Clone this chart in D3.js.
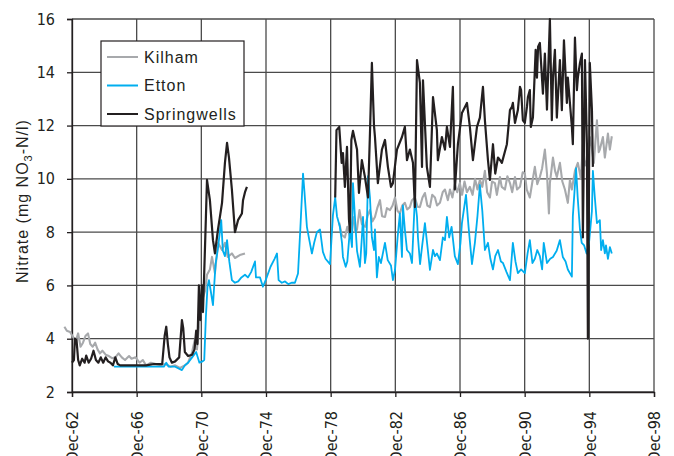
<!DOCTYPE html>
<html>
<head>
<meta charset="utf-8">
<script src="https://cdn.jsdelivr.net/npm/d3@7"></script>
<style>
  html, body { margin: 0; padding: 0; background: #fff; }
  svg { display: block; }
  .tick-label { font-family: "Liberation Sans Narrow", "DejaVu Sans Condensed", "Roboto Condensed", "Liberation Sans", sans-serif; font-size: 16px; fill: #231f20; }
  .legend-text, .axis-title { font-family: "Liberation Sans", Arial, sans-serif; font-size: 16px; fill: #231f20; letter-spacing: 1px; }
</style>
</head>
<body>
<svg id="chart" width="674" height="456"></svg>
<script>
// Axis ticks (time in decimal years, December of each tick year)
const xTickYears = [1962.92, 1966.92, 1970.92, 1974.92, 1978.92, 1982.92, 1986.92, 1990.92, 1994.92, 1998.92];
const xTickLabels = ["Dec-62", "Dec-66", "Dec-70", "Dec-74", "Dec-78", "Dec-82", "Dec-86", "Dec-90", "Dec-94", "Dec-98"];
const yTicks = [2, 4, 6, 8, 10, 12, 14, 16];

const seriesNames = ["Kilham", "Etton", "Springwells"];

// Kilham borehole nitrate, [decimal year, mg NO3-N/l]
const kilham = [
  [1962.45, 4.45], [1962.6, 4.3], [1962.8, 4.25], [1963.0, 4.05], [1963.15, 3.9], [1963.3, 4.2], [1963.45, 3.7],
  [1963.6, 3.85], [1963.75, 4.1], [1963.91, 4.2], [1964.05, 3.8], [1964.2, 3.7], [1964.35, 3.85], [1964.5, 3.6],
  [1964.65, 3.45], [1964.8, 3.55], [1965.0, 3.4], [1965.2, 3.35], [1965.4, 3.27], [1965.6, 3.3], [1965.8, 3.45],
  [1966.0, 3.3], [1966.2, 3.2], [1966.45, 3.35], [1966.6, 3.25], [1966.85, 3.3], [1967.1, 3.1], [1967.3, 3.2],
  [1967.5, 3.0], [1967.8, 3.1], [1968.1, 3.05], [1968.4, 3.0], [1968.7, 3.05], [1969.0, 2.95], [1969.3, 3.0],
  [1969.6, 2.9], [1969.9, 3.0], [1970.1, 3.1], [1970.35, 3.5], [1970.53, 4.0], [1970.65, 3.6], [1970.8, 4.6],
  [1970.95, 5.4], [1971.15, 5.8], [1971.27, 6.4], [1971.45, 6.6], [1971.58, 7.07], [1971.76, 6.46], [1971.95, 7.6],
  [1972.2, 7.33], [1972.38, 7.6], [1972.55, 7.07], [1972.81, 7.2], [1973.0, 7.03], [1973.3, 7.14], [1973.62, 7.2],
  [1979.45, 8.35], [1979.6, 7.9], [1979.8, 7.8], [1979.95, 8.2], [1980.1, 7.85], [1980.3, 8.57], [1980.45, 8.0],
  [1980.55, 8.1], [1980.7, 8.83], [1980.85, 8.3], [1981.05, 8.2], [1981.2, 8.6], [1981.35, 8.83], [1981.5, 8.4],
  [1981.66, 8.57], [1981.8, 8.9], [1981.97, 9.2], [1982.1, 8.6], [1982.28, 8.57], [1982.4, 8.9], [1982.59, 8.83],
  [1982.75, 9.0], [1982.9, 9.3], [1983.05, 8.8], [1983.2, 8.7], [1983.35, 9.0], [1983.51, 9.1], [1983.65, 8.85],
  [1983.82, 8.94], [1983.95, 9.2], [1984.13, 9.3], [1984.3, 8.95], [1984.44, 8.94], [1984.6, 9.3], [1984.75, 9.47],
  [1984.9, 9.0], [1985.06, 8.94], [1985.2, 9.4], [1985.37, 9.3], [1985.5, 9.0], [1985.68, 9.1], [1985.85, 9.5],
  [1985.99, 9.6], [1986.17, 9.2], [1986.3, 9.6], [1986.45, 9.3], [1986.6, 9.8], [1986.75, 9.5], [1986.91, 9.84],
  [1987.05, 9.4], [1987.2, 9.9], [1987.35, 9.5], [1987.53, 9.7], [1987.7, 9.4], [1987.85, 10.0], [1988.0, 9.6],
  [1988.15, 9.96], [1988.3, 9.7], [1988.46, 10.3], [1988.6, 9.5], [1988.77, 9.3], [1988.9, 9.9], [1989.08, 9.84],
  [1989.2, 9.4], [1989.39, 10.07], [1989.5, 9.7], [1989.7, 9.6], [1989.85, 10.1], [1990.01, 9.84], [1990.15, 9.5],
  [1990.32, 10.07], [1990.45, 9.6], [1990.63, 9.7], [1990.8, 10.25], [1990.93, 10.2], [1991.05, 9.6], [1991.24, 9.3],
  [1991.4, 9.9], [1991.55, 10.45], [1991.7, 9.8], [1991.86, 10.07], [1992.0, 10.4], [1992.17, 11.1], [1992.3, 10.2],
  [1992.42, 8.7], [1992.48, 9.84], [1992.67, 10.8], [1992.8, 10.3], [1992.91, 10.07], [1993.1, 10.6], [1993.25, 9.9],
  [1993.41, 9.6], [1993.59, 9.1], [1993.72, 9.96], [1993.84, 9.6], [1994.03, 10.3], [1994.21, 10.6], [1994.4, 10.0],
  [1994.52, 11.3], [1994.65, 10.5], [1994.83, 10.8], [1994.95, 11.57], [1995.08, 11.1], [1995.2, 10.6], [1995.39, 12.2],
  [1995.5, 11.0], [1995.57, 11.1], [1995.76, 11.57], [1995.88, 10.8], [1996.07, 11.7], [1996.19, 11.1], [1996.31, 11.6]
];

// Etton borehole nitrate
const etton = [
  [1965.52, 2.95], [1966.0, 2.95], [1967.0, 2.95], [1968.0, 2.95], [1968.6, 2.95], [1968.75, 3.1], [1968.9, 2.95],
  [1969.3, 2.95], [1969.72, 2.82], [1969.9, 3.0], [1970.1, 3.1], [1970.35, 3.3], [1970.6, 3.5], [1970.8, 3.1],
  [1971.0, 3.15], [1971.1, 3.2], [1971.2, 4.8], [1971.3, 5.94], [1971.39, 6.2], [1971.5, 5.8], [1971.64, 5.26],
  [1971.8, 6.8], [1971.95, 7.4], [1972.15, 8.45], [1972.25, 7.3], [1972.38, 7.1], [1972.51, 7.7], [1972.65, 6.9],
  [1972.81, 6.2], [1973.0, 6.1], [1973.2, 6.15], [1973.4, 6.3], [1973.62, 6.4], [1973.8, 6.3], [1974.0, 6.5],
  [1974.24, 6.9], [1974.3, 6.3], [1974.55, 6.3], [1974.73, 5.95], [1974.9, 6.2], [1975.2, 6.7], [1975.45, 7.0],
  [1975.6, 7.2], [1975.7, 6.2], [1975.9, 6.1], [1976.1, 6.15], [1976.3, 6.05], [1976.5, 6.1], [1976.71, 6.1],
  [1976.9, 6.45], [1977.05, 8.2], [1977.21, 10.2], [1977.3, 9.5], [1977.45, 8.2], [1977.6, 7.7], [1977.76, 7.2],
  [1977.9, 7.6], [1978.07, 8.0], [1978.26, 8.1], [1978.44, 7.26], [1978.6, 7.0], [1978.88, 6.8], [1979.06, 8.64],
  [1979.2, 9.3], [1979.31, 8.6], [1979.49, 8.2], [1979.62, 7.6], [1979.68, 7.07], [1979.85, 6.7], [1979.95, 6.9],
  [1980.11, 8.1], [1980.24, 7.44], [1980.3, 9.84], [1980.42, 8.57], [1980.55, 7.3], [1980.73, 6.7], [1980.85, 7.8],
  [1980.92, 8.57], [1981.04, 6.84], [1981.12, 7.2], [1981.23, 10.1], [1981.35, 9.3], [1981.47, 7.8], [1981.6, 7.33],
  [1981.66, 8.1], [1981.78, 6.3], [1981.9, 7.07], [1982.03, 6.84], [1982.28, 7.6], [1982.45, 6.95], [1982.65, 6.75],
  [1982.77, 6.2], [1982.9, 6.58], [1983.06, 7.8], [1983.2, 8.7], [1983.33, 7.07], [1983.39, 9.0], [1983.51, 8.1],
  [1983.64, 7.33], [1983.82, 7.2], [1983.95, 6.84], [1984.13, 9.3], [1984.26, 8.57], [1984.32, 7.8], [1984.45, 6.8],
  [1984.57, 7.44], [1984.75, 8.34], [1984.93, 7.33], [1985.06, 6.58], [1985.25, 7.33], [1985.37, 7.1], [1985.49, 7.2],
  [1985.68, 6.95], [1985.86, 7.8], [1985.99, 7.7], [1986.11, 8.57], [1986.25, 7.8], [1986.4, 8.2], [1986.6, 7.1],
  [1986.79, 6.8], [1986.95, 7.6], [1987.04, 8.34], [1987.29, 9.4], [1987.45, 8.2], [1987.6, 7.2], [1987.66, 6.8],
  [1987.84, 7.6], [1988.0, 8.6], [1988.15, 9.77], [1988.3, 8.8], [1988.46, 7.33], [1988.65, 7.6], [1988.8, 7.0],
  [1988.96, 6.6], [1989.1, 7.1], [1989.27, 7.33], [1989.45, 6.9], [1989.58, 6.84], [1989.8, 6.5], [1990.01, 6.2],
  [1990.19, 7.6], [1990.35, 6.9], [1990.5, 6.46], [1990.7, 6.6], [1990.93, 6.46], [1991.1, 7.2], [1991.24, 7.7],
  [1991.4, 6.84], [1991.55, 7.0], [1991.7, 7.33], [1991.86, 7.1], [1992.0, 6.6], [1992.1, 7.6], [1992.3, 6.84],
  [1992.5, 7.0], [1992.67, 7.07], [1992.9, 7.3], [1993.1, 7.7], [1993.28, 7.07], [1993.45, 6.9], [1993.59, 6.6],
  [1993.84, 6.33], [1993.9, 8.6], [1994.1, 10.4], [1994.2, 9.3], [1994.34, 8.1], [1994.45, 7.6], [1994.6, 7.5],
  [1994.75, 7.2], [1994.9, 7.6], [1995.08, 8.8], [1995.14, 10.3], [1995.26, 9.3], [1995.39, 8.34], [1995.57, 8.45],
  [1995.65, 7.33], [1995.76, 7.7], [1995.88, 7.2], [1995.95, 7.5], [1996.07, 7.0], [1996.19, 7.44], [1996.31, 7.2]
];

// Springwells borehole nitrate
const springwells = [
  [1962.92, 3.1], [1963.04, 3.2], [1963.1, 4.0], [1963.2, 3.95], [1963.3, 3.2], [1963.4, 3.0], [1963.55, 3.25],
  [1963.7, 3.1], [1963.8, 3.37], [1963.95, 3.1], [1964.1, 3.25], [1964.25, 3.55], [1964.4, 3.2], [1964.55, 3.1],
  [1964.7, 3.3], [1964.85, 3.1], [1965.0, 3.3], [1965.15, 3.15], [1965.3, 3.1], [1965.45, 3.0], [1965.6, 3.3],
  [1965.75, 3.05], [1965.9, 3.0], [1966.38, 3.0], [1967.0, 3.0], [1967.5, 3.0], [1968.0, 3.05], [1968.5, 3.05],
  [1968.65, 4.1], [1968.75, 4.45], [1968.85, 3.8], [1968.95, 3.3], [1969.1, 3.1], [1969.3, 3.15], [1969.55, 3.3],
  [1969.72, 4.7], [1969.8, 4.4], [1969.9, 3.5], [1970.1, 3.35], [1970.35, 3.4], [1970.5, 3.6], [1970.6, 4.3],
  [1970.68, 3.8], [1970.77, 6.0], [1970.85, 4.7], [1970.96, 6.0], [1971.02, 5.0], [1971.1, 6.5], [1971.2, 8.5],
  [1971.27, 9.96], [1971.45, 9.2], [1971.64, 7.7], [1971.76, 7.2], [1971.95, 8.1], [1972.2, 9.1], [1972.38, 10.6],
  [1972.51, 11.35], [1972.63, 10.8], [1972.81, 9.6], [1973.0, 8.0], [1973.19, 8.45], [1973.43, 8.7], [1973.5, 9.2],
  [1973.62, 9.5], [1973.74, 9.7],
  [1979.2, 9.3], [1979.28, 11.83], [1979.45, 11.95], [1979.6, 10.6], [1979.68, 10.97], [1979.8, 9.7], [1979.93, 11.2],
  [1980.05, 8.5], [1980.11, 8.0], [1980.2, 11.46], [1980.3, 11.8], [1980.55, 11.1], [1980.67, 9.47], [1980.85, 10.7],
  [1981.04, 10.07], [1981.23, 9.3], [1981.35, 11.7], [1981.47, 14.35], [1981.6, 12.0], [1981.66, 11.57], [1981.84, 9.84],
  [1982.09, 11.1], [1982.28, 11.46], [1982.46, 10.45], [1982.65, 9.7], [1982.77, 9.84], [1983.02, 11.1], [1983.33, 11.57],
  [1983.51, 11.95], [1983.64, 10.7], [1983.82, 11.1], [1984.01, 10.6], [1984.13, 8.94], [1984.26, 14.46], [1984.44, 13.6],
  [1984.57, 10.45], [1984.63, 13.7], [1984.87, 10.45], [1985.06, 9.7], [1985.25, 13.07], [1985.49, 11.83], [1985.55, 10.7],
  [1985.8, 11.57], [1985.99, 11.1], [1986.11, 11.95], [1986.3, 11.2], [1986.48, 13.45], [1986.6, 9.6], [1986.79, 11.3],
  [1987.04, 12.47], [1987.35, 12.85], [1987.53, 11.95], [1987.72, 10.7], [1987.97, 11.95], [1988.15, 12.3], [1988.34, 13.45],
  [1988.46, 12.2], [1988.65, 10.7], [1988.77, 9.96], [1988.96, 11.3], [1989.1, 10.2], [1989.27, 10.8], [1989.4, 10.7],
  [1989.51, 10.6], [1989.82, 11.3], [1990.01, 12.58], [1990.13, 12.7], [1990.19, 12.85], [1990.32, 12.1], [1990.5, 12.58],
  [1990.63, 13.45], [1990.7, 13.33], [1990.81, 12.2], [1990.93, 12.1], [1991.06, 12.7], [1991.12, 13.07], [1991.24, 13.33],
  [1991.3, 11.95], [1991.43, 12.3], [1991.6, 14.84], [1991.68, 13.8], [1991.75, 14.96], [1991.86, 15.1], [1992.05, 13.2],
  [1992.17, 14.7], [1992.3, 12.6], [1992.48, 16.0], [1992.6, 12.2], [1992.67, 13.8], [1992.79, 14.84], [1992.91, 12.3],
  [1993.1, 14.46], [1993.22, 12.58], [1993.35, 15.2], [1993.53, 12.85], [1993.59, 13.8], [1993.84, 11.95], [1993.9, 11.3],
  [1994.03, 15.3], [1994.15, 13.33], [1994.21, 13.8], [1994.34, 14.35], [1994.46, 14.7], [1994.52, 7.8], [1994.65, 14.46],
  [1994.77, 11.3], [1994.83, 4.0], [1994.95, 14.35], [1995.08, 12.6], [1995.14, 10.45]
];

const seriesData = [kilham, etton, springwells];
const seriesColors = ["#a7a9ac", "#00aeef", "#231f20"];
const seriesWidths = [2.1, 1.8, 2.2];

const svg = d3.select("#chart");
const plot = { left: 72, right: 654, top: 19, bottom: 392 };

const x = d3.scaleLinear().domain([xTickYears[0], xTickYears[xTickYears.length - 1]]).range([plot.left, plot.right]);
const y = d3.scaleLinear().domain([2, 16]).range([plot.bottom, plot.top]);

// gridlines
const grid = svg.append("g").attr("stroke", "#4a4a4a").attr("stroke-width", 1.3);
grid.selectAll("line.h").data(yTicks).join("line")
  .attr("x1", plot.left).attr("x2", plot.right)
  .attr("y1", d => y(d)).attr("y2", d => y(d));
grid.selectAll("line.v").data(xTickYears).join("line")
  .attr("y1", plot.top).attr("y2", plot.bottom)
  .attr("x1", d => x(d)).attr("x2", d => x(d));

// axes with outward tick marks
const yAxis = svg.append("g").attr("transform", `translate(${plot.left},0)`)
  .call(d3.axisLeft(y).tickValues(yTicks).tickSize(5).tickPadding(12).tickFormat(d3.format("d")));
yAxis.select(".domain").attr("stroke", "#231f20").attr("stroke-width", 1.3);
yAxis.selectAll(".tick line").attr("stroke", "#231f20").attr("stroke-width", 1.3);
yAxis.selectAll(".tick text").attr("class", "tick-label").attr("font-size", null).attr("font-family", null);

const xAxis = svg.append("g").attr("transform", `translate(0,${plot.bottom})`)
  .call(d3.axisBottom(x).tickValues(xTickYears).tickSize(5).tickFormat((d, i) => xTickLabels[i]));
xAxis.select(".domain").attr("stroke", "#231f20").attr("stroke-width", 1.3);
xAxis.selectAll(".tick line").attr("stroke", "#231f20").attr("stroke-width", 1.3);
xAxis.selectAll(".tick text")
  .attr("class", "tick-label").attr("font-size", null).attr("font-family", null)
  .attr("text-anchor", "end")
  .attr("x", 0).attr("y", 0).attr("dy", "0.36em")
  .attr("transform", "translate(0,19) rotate(-90)");

// series lines
const line = d3.line().x(d => x(d[0])).y(d => y(d[1]));
const segments = (data) => {
  // break the line where there is a multi-year gap in records
  const parts = [[]];
  data.forEach((d, i) => {
    if (i > 0 && d[0] - data[i - 1][0] > 3) parts.push([]);
    parts[parts.length - 1].push(d);
  });
  return parts;
};
seriesData.forEach((data, i) => {
  svg.append("g").selectAll("path").data(segments(data)).join("path")
    .attr("d", line)
    .attr("fill", "none")
    .attr("stroke", seriesColors[i])
    .attr("stroke-width", seriesWidths[i])
    .attr("stroke-linejoin", "round");
});

// legend
const legend = svg.append("g");
legend.append("rect").attr("x", 101).attr("y", 41).attr("width", 143).attr("height", 85)
  .attr("fill", "#fff").attr("stroke", "#231f20").attr("stroke-width", 1.2);
seriesNames.forEach((name, i) => {
  const ly = 57 + i * 28.5;
  legend.append("line").attr("x1", 107).attr("x2", 138).attr("y1", ly).attr("y2", ly)
    .attr("stroke", seriesColors[i]).attr("stroke-width", 2);
  legend.append("text").attr("class", "legend-text").attr("x", 144).attr("y", ly).attr("dy", "0.36em").text(name);
});

// y-axis title with subscript
const title = svg.append("text").attr("class", "axis-title")
  .attr("transform", "translate(28,201) rotate(-90)")
  .attr("text-anchor", "middle");
title.append("tspan").text("Nitrate (mg NO");
title.append("tspan").attr("font-size", "11px").attr("dy", "4").text("3");
title.append("tspan").attr("dy", "-4").text("-N/l)");
</script>
</body>
</html>
